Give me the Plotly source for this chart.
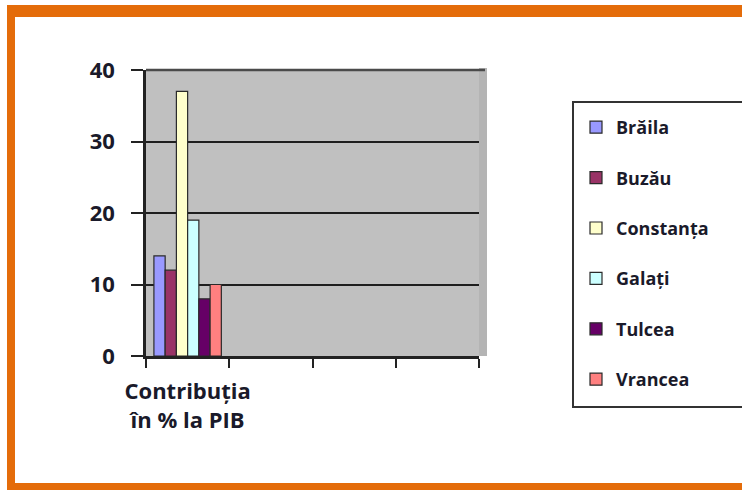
import plotly.graph_objects as go

# Regional contribution to GDP (%)
regions = ["Brăila", "Buzău", "Constanța", "Galați", "Tulcea", "Vrancea"]
values = [14, 12, 37, 19, 8, 10]
colors = ["#9999FF", "#993366", "#FFFFCC", "#CCFFFF", "#660066", "#FF8080"]
category_label = "Contribuția<br>în % la PIB"
y_ticks = [0, 10, 20, 30, 40]

W, H = 742, 490
L, R, T, B = 146, 479, 70, 356  # plot area in pixels

FONT = "Open Sans"
TXT = "#1a1a2a"


def px(x):
    return (x - L) / (R - L)


def py(y):
    return (B - y) / (B - T)


fig = go.Figure()
for name, v, c in zip(regions, values, colors):
    fig.add_trace(go.Bar(
        x=[0], y=[v], name=name, legendgroup=name,
        marker=dict(color=c, line=dict(color="#2a2a2a", width=1.2)),
    ))

shapes = []
# depth strip on the right and top bevel of the back wall
shapes.append(dict(type="rect", xref="paper", yref="paper",
                   x0=px(R), x1=px(R + 8), y0=py(B), y1=py(T - 2),
                   fillcolor="#b4b4b4", line=dict(width=0), layer="below"))
shapes.append(dict(type="line", xref="paper", yref="paper",
                   x0=0, x1=px(R + 6), y0=1, y1=1,
                   line=dict(color="#4a4a4a", width=2.5)))
# legend frame
shapes.append(dict(type="rect", xref="paper", yref="paper",
                   x0=px(573), x1=px(760), y0=py(102), y1=py(407),
                   fillcolor="white", line=dict(color="#333333", width=2)))
# orange page frame
orange = "#E46C0A"
for x0, x1, y0, y1 in [(7, 760, 5, 17), (7, 15, 5, 495), (7, 760, 483, 495)]:
    shapes.append(dict(type="rect", xref="paper", yref="paper",
                       x0=px(x0), x1=px(x1), y0=py(y1), y1=py(y0),
                       fillcolor=orange, line=dict(width=0)))

fig.update_layout(
    width=W, height=H,
    margin=dict(l=L, r=W - R, t=T, b=H - B, pad=0),
    paper_bgcolor="white",
    plot_bgcolor="#C0C0C0",
    barmode="group", bargap=0.19, bargroupgap=0,
    font=dict(family=FONT, color=TXT, size=19, weight="bold"),
    shapes=shapes,
    showlegend=True,
    legend=dict(
        x=px(576), xanchor="left", y=py(109), yanchor="top",
        bgcolor="rgba(0,0,0,0)", borderwidth=0,
        traceorder="grouped", tracegroupgap=24, maxheight=400,
        font=dict(family=FONT, size=18, color=TXT, weight="bold"),
    ),
    xaxis=dict(
        range=[-0.5, 3.5], tickmode="array", tickvals=[0],
        ticktext=[category_label],
        ticks="outside", ticklen=14, tickcolor="rgba(0,0,0,0)",
        tickfont=dict(family=FONT, size=22, color=TXT, weight="bold"),
        minor=dict(tickmode="array", tickvals=[-0.5, 0.5, 1.5, 2.5, 3.5],
                   ticks="outside", ticklen=9, tickwidth=2, tickcolor="#222"),
        showline=True, linecolor="#222", linewidth=2.5,
        showgrid=False, zeroline=False, fixedrange=True,
    ),
    yaxis=dict(
        range=[0, 40], tickmode="array", tickvals=y_ticks,
        ticks="outside", ticklen=12, tickwidth=2, tickcolor="#222",
        ticklabelstandoff=12,
        tickfont=dict(family=FONT, size=22, color=TXT, weight="bold"),
        showline=True, linecolor="#222", linewidth=2.5,
        showgrid=True, gridcolor="#1e1e1e", gridwidth=1.5,
        zeroline=False, fixedrange=True,
    ),
)

fig.write_html("out.html")
